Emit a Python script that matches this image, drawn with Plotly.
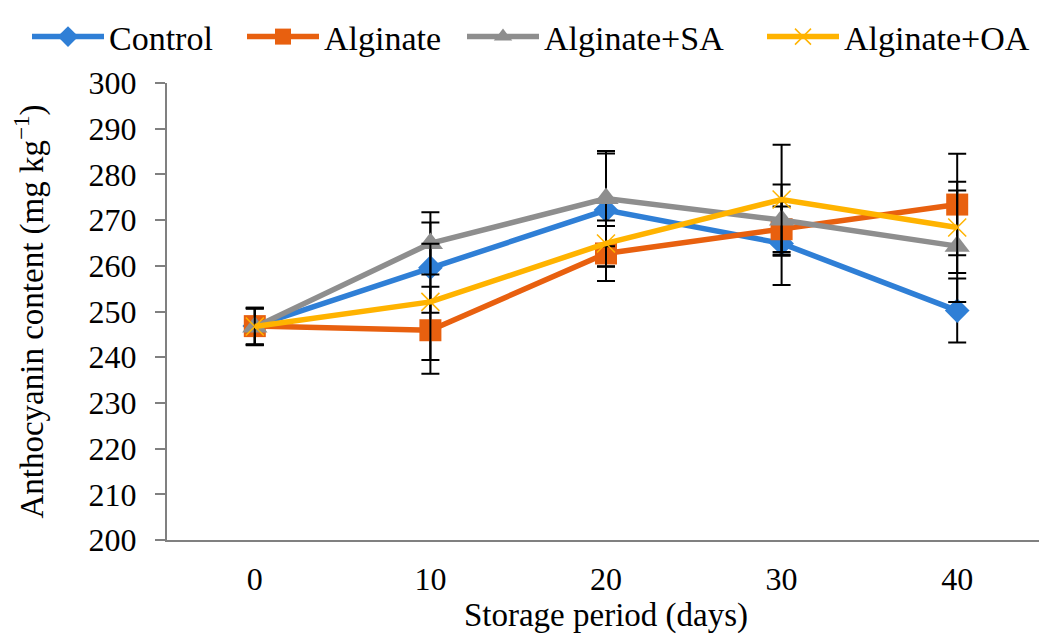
import plotly.graph_objects as go

days = ["0", "10", "20", "30", "40"]
series_names = ["Control", "Alginate", "Alginate+SA", "Alginate+OA"]
control = [246.8, 259.6, 272.2, 264.9, 250.2]
control_err = [4.0, 9.9, 12.4, 9.1, 7.0]
alginate = [246.8, 245.9, 262.7, 268.0, 273.4]
alginate_err = [4.0, 9.5, 6.0, 5.0, 11.1]
alginate_sa = [246.6, 264.9, 274.7, 270.0, 264.3]
alginate_sa_err = [4.0, 6.8, 10.4, 7.8, 12.2]
alginate_oa = [246.7, 252.1, 264.9, 274.5, 268.4]
alginate_oa_err = [4.0, 12.7, 5.0, 12.0, 10.0]

values = [control, alginate, alginate_sa, alginate_oa]
errors = [control_err, alginate_err, alginate_sa_err, alginate_oa_err]
colors = ["#2F7FD6", "#E8600F", "#8E8E8E", "#FFB300"]
symbols = ["diamond", "square", "triangle-up", "x-thin"]
sizes = [19, 22, 22, 18]
legend_ids = ["legend", "legend2", "legend3", "legend4"]
legend_left_px = [19, 234, 454, 754]

fig = go.Figure()
for name, v, e, c, s, sz, lg in zip(series_names, values, errors, colors, symbols, sizes, legend_ids):
    marker = dict(symbol=s, size=sz, color=c)
    if s == "x-thin":
        marker["line"] = dict(color=c, width=1.5)
    fig.add_trace(go.Scatter(
        x=days, y=v, name=name, mode="lines+markers", legend=lg,
        line=dict(color=c, width=5.5),
        marker=marker,
        error_y=dict(type="data", array=e, visible=True, color="black",
                     thickness=2, width=9),
    ))

font_family = "Liberation Serif, Times New Roman, serif"
fig.update_layout(
    width=1047, height=636,
    margin=dict(l=159, r=10, t=75, b=104),
    paper_bgcolor="white", plot_bgcolor="white",
    font=dict(family=font_family, size=32, color="black"),
    showlegend=True,
)
for lg, px in zip(legend_ids, legend_left_px):
    fig.update_layout({lg: dict(orientation="h", x=px / 1047, xanchor="left", xref="container",
                                y=1.0, yanchor="top", yref="container",
                                font=dict(size=34), itemwidth=72,
                                bgcolor="rgba(0,0,0,0)")})
fig.update_xaxes(
    type="category", range=[-0.5, 4.5], automargin=False,
    showline=True, linecolor="#808080", linewidth=2,
    ticks="", showgrid=False, zeroline=False,
    tickfont=dict(size=32), ticklabelstandoff=10,
    title=dict(text="Storage period (days)", font=dict(size=33), standoff=0),
)
fig.update_yaxes(
    range=[200, 300], dtick=10, automargin=False,
    showline=True, linecolor="#808080", linewidth=2,
    ticks="outside", ticklen=10, tickcolor="#808080", tickwidth=2,
    showgrid=False, zeroline=False,
    tickfont=dict(size=32), ticklabelstandoff=12,
    title=dict(text="Anthocyanin content (mg kg<sup>−1</sup>)", font=dict(size=33), standoff=47),
)

fig.write_html("out.html")
